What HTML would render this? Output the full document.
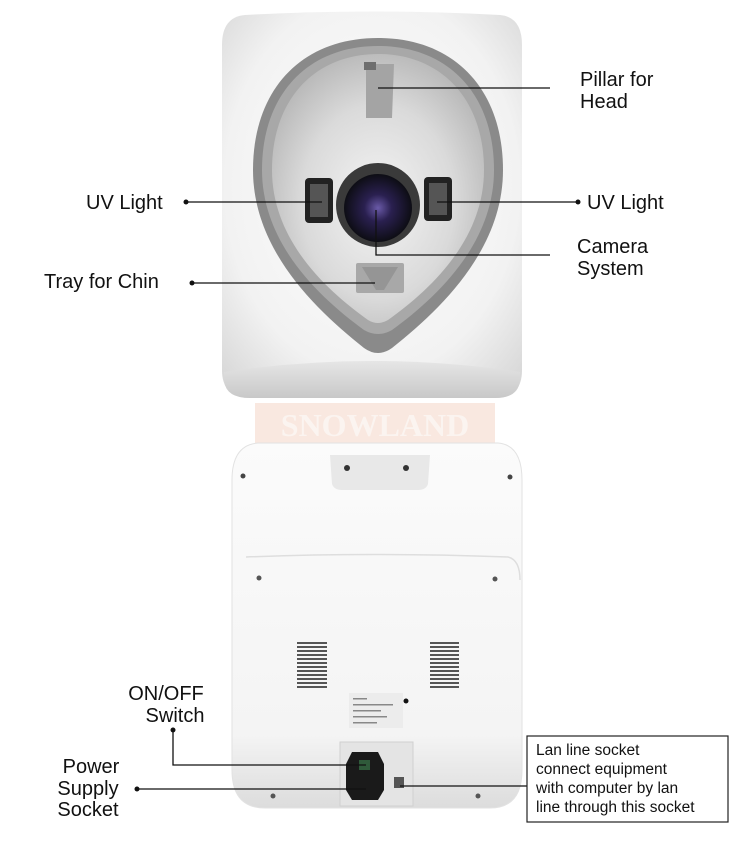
<!DOCTYPE html>
<html><head><meta charset="utf-8"><style>
html,body{margin:0;padding:0;background:#fff}
svg{display:block}
text{font-family:"Liberation Sans",sans-serif;fill:#111}
</style></head><body>
<svg width="750" height="853" viewBox="0 0 750 853" xmlns="http://www.w3.org/2000/svg">
<defs>
<radialGradient id="bg1" cx="0.5" cy="0.45" r="0.7">
<stop offset="0" stop-color="#ffffff"/><stop offset="0.7" stop-color="#f2f2f2"/><stop offset="1" stop-color="#d8d8d8"/>
</radialGradient>
<linearGradient id="band" x1="0" y1="0" x2="0" y2="1">
<stop offset="0" stop-color="#e6e6e6"/><stop offset="1" stop-color="#c8c8c8"/>
</linearGradient>
<radialGradient id="inner" cx="0.5" cy="0.55" r="0.6">
<stop offset="0" stop-color="#f4f4f4"/><stop offset="0.6" stop-color="#dadada"/><stop offset="1" stop-color="#b4b4b4"/>
</radialGradient>
<radialGradient id="lens" cx="0.5" cy="0.5" r="0.5">
<stop offset="0" stop-color="#6a5aa8"/><stop offset="0.4" stop-color="#2a2050"/><stop offset="1" stop-color="#0d0d14"/>
</radialGradient>
<linearGradient id="bk" x1="0" y1="0" x2="0" y2="1">
<stop offset="0" stop-color="#fbfbfb"/><stop offset="0.8" stop-color="#f4f4f4"/><stop offset="1" stop-color="#dcdcdc"/>
</linearGradient>
</defs>

<!-- top device -->
<path d="M245 15 Q372 8 500 15 Q522 17 522 45 L522 370 Q522 398 495 398 L250 398 Q222 398 222 370 L222 45 Q222 17 245 15 Z" fill="url(#bg1)"/>
<path d="M224 372 Q372 350 520 372 L520 378 Q520 398 495 398 L250 398 Q224 398 224 378 Z" fill="url(#band)"/>
<!-- teardrop ring -->
<path d="M378 38 C455 38 503 90 503 170 C503 250 440 310 392 348 Q378 358 364 348 C316 310 253 250 253 170 C253 90 301 38 378 38 Z" fill="#8a8a8a"/>
<path d="M378 46 C448 46 494 94 494 170 C494 244 436 298 392 330 Q378 338 364 330 C320 298 262 244 262 170 C262 94 308 46 378 46 Z" fill="#a8a8a8"/>
<path d="M378 54 C440 54 484 98 484 170 C484 240 430 290 388 320 Q378 326 368 320 C326 290 272 240 272 170 C272 98 316 54 378 54 Z" fill="url(#inner)"/>
<!-- pillar -->
<path d="M366 64 L394 64 L392 118 L366 118 Z" fill="#a4a4a4"/>
<rect x="364" y="62" width="12" height="8" fill="#6e6e6e"/>
<!-- uv lights -->
<rect x="305" y="178" width="28" height="45" rx="4" fill="#222"/>
<rect x="310" y="184" width="18" height="33" fill="#555"/>
<rect x="424" y="177" width="28" height="44" rx="4" fill="#222"/>
<rect x="429" y="183" width="18" height="32" fill="#555"/>
<!-- camera -->
<circle cx="378" cy="205" r="42" fill="#3a3a3a"/>
<circle cx="378" cy="208" r="34" fill="url(#lens)"/>
<!-- tray -->
<rect x="356" y="263" width="48" height="30" rx="2" fill="#a8a8a8"/>
<path d="M362 267 L398 267 L384 290 L376 290 Z" fill="#959595"/>

<!-- watermark -->
<rect x="255" y="403" width="240" height="40" fill="#f9e8e0"/>
<text x="375" y="436" text-anchor="middle" font-size="32" font-weight="bold" style="fill:#fbf4f0;font-family:'Liberation Serif',serif">SNOWLAND</text>

<!-- bottom device -->
<path d="M258 443 L498 443 Q522 445 522 480 L522 770 Q522 808 490 808 L265 808 Q232 808 232 770 L232 480 Q232 445 258 443 Z" fill="url(#bk)" stroke="#e2e2e2"/>
<path d="M246 557 Q372 552 508 557 Q520 560 520 580" fill="none" stroke="#dedede" stroke-width="1.5"/>
<path d="M330 455 L430 455 L428 484 Q426 490 418 490 L342 490 Q334 490 332 484 Z" fill="#e8e8e8"/>
<circle cx="347" cy="468" r="3" fill="#333"/><circle cx="406" cy="468" r="3" fill="#333"/>
<circle cx="243" cy="476" r="2.5" fill="#444"/><circle cx="510" cy="477" r="2.5" fill="#444"/>
<circle cx="259" cy="578" r="2.5" fill="#555"/><circle cx="495" cy="579" r="2.5" fill="#555"/>
<circle cx="273" cy="796" r="2.5" fill="#555"/><circle cx="478" cy="796" r="2.5" fill="#555"/>
<g fill="#555">
<rect x="297" y="642" width="30" height="2"/><rect x="297" y="646" width="30" height="2"/><rect x="297" y="650" width="30" height="2"/><rect x="297" y="654" width="30" height="2"/><rect x="297" y="658" width="30" height="2"/><rect x="297" y="662" width="30" height="2"/><rect x="297" y="666" width="30" height="2"/><rect x="297" y="670" width="30" height="2"/><rect x="297" y="674" width="30" height="2"/><rect x="297" y="678" width="30" height="2"/><rect x="297" y="682" width="30" height="2"/><rect x="297" y="686" width="30" height="2"/>
<rect x="430" y="642" width="29" height="2"/><rect x="430" y="646" width="29" height="2"/><rect x="430" y="650" width="29" height="2"/><rect x="430" y="654" width="29" height="2"/><rect x="430" y="658" width="29" height="2"/><rect x="430" y="662" width="29" height="2"/><rect x="430" y="666" width="29" height="2"/><rect x="430" y="670" width="29" height="2"/><rect x="430" y="674" width="29" height="2"/><rect x="430" y="678" width="29" height="2"/><rect x="430" y="682" width="29" height="2"/><rect x="430" y="686" width="29" height="2"/>
</g>
<rect x="349" y="693" width="54" height="35" fill="#ececec"/>
<g fill="#888"><rect x="353" y="698" width="14" height="1.5"/><rect x="353" y="704" width="40" height="1.5"/><rect x="353" y="710" width="28" height="1.5"/><rect x="353" y="716" width="34" height="1.5"/><rect x="353" y="722" width="24" height="1.5"/></g>
<circle cx="406" cy="701" r="2.5" fill="#111"/>
<rect x="340" y="742" width="73" height="64" fill="#e4e4e4" stroke="#d0d0d0"/>
<path d="M352 752 L378 752 L384 764 L384 790 L378 800 L352 800 L346 790 L346 764 Z" fill="#1a1a1a"/>
<rect x="359" y="760" width="11" height="10" fill="#2f5a3a"/>
<rect x="394" y="777" width="10" height="11" fill="#555"/>

<!-- connectors -->
<g stroke="#111" stroke-width="1.3" fill="none">
<polyline points="378,88 550,88"/>
<polyline points="186,202 322,202"/>
<polyline points="437,202 578,202"/>
<polyline points="376,210 376,255 550,255"/>
<polyline points="192,283 375,283"/>
<polyline points="173,730 173,765 366,765"/>
<polyline points="137,789 366,789"/>
<polyline points="400,786 527,786"/>
</g>
<g fill="#111">
<circle cx="186" cy="202" r="2.5"/><circle cx="578" cy="202" r="2.5"/><circle cx="192" cy="283" r="2.5"/>
<circle cx="173" cy="730" r="2.5"/><circle cx="137" cy="789" r="2.5"/>
</g>
<rect x="527" y="736" width="201" height="86" fill="#fff" stroke="#222" stroke-width="1.2"/>

<!-- labels -->
<g font-size="20">
<text x="580" y="86">Pillar for</text>
<text x="580" y="108">Head</text>
<text x="86" y="209">UV Light</text>
<text x="587" y="209">UV Light</text>
<text x="577" y="253">Camera</text>
<text x="577" y="275">System</text>
<text x="44" y="288">Tray for Chin</text>
<text x="166" y="700" text-anchor="middle">ON/OFF</text>
<text x="175" y="722" text-anchor="middle">Switch</text>
<text x="91" y="773" text-anchor="middle">Power</text>
<text x="88" y="795" text-anchor="middle">Supply</text>
<text x="88" y="816" text-anchor="middle">Socket</text>
</g>
<g font-size="15.5">
<text x="536" y="755">Lan line socket</text>
<text x="536" y="774">connect equipment</text>
<text x="536" y="793">with computer by lan</text>
<text x="536" y="812">line through this socket</text>
</g>
</svg>
</body></html>
